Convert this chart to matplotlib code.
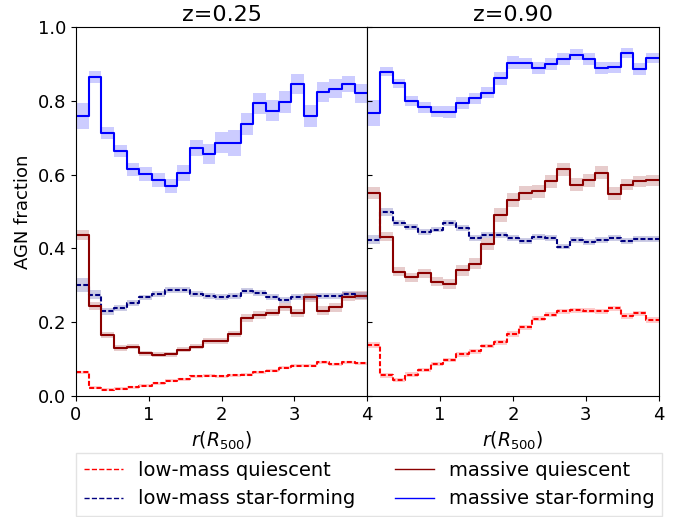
import numpy as np
import matplotlib
matplotlib.use("Agg")
import matplotlib.pyplot as plt
from matplotlib.lines import Line2D

# ---- data ----
r_edges = np.linspace(0, 4, 24)  # 23 radial bins in units of R500

# z = 0.25
lq_025 = [0.065, 0.022, 0.017, 0.020, 0.024, 0.028, 0.035, 0.041, 0.046, 0.053, 0.055, 0.053,
          0.056, 0.058, 0.065, 0.068, 0.076, 0.082, 0.082, 0.092, 0.086, 0.091, 0.089]
lq_025_err = [0.004] * 23
lsf_025 = [0.301, 0.274, 0.229, 0.238, 0.253, 0.267, 0.276, 0.287, 0.287, 0.276, 0.271, 0.269,
           0.271, 0.285, 0.278, 0.269, 0.260, 0.269, 0.269, 0.271, 0.271, 0.276, 0.272]
lsf_025_err = [0.020, 0.012, 0.010, 0.009, 0.008, 0.008, 0.008, 0.008, 0.008, 0.008, 0.008, 0.008,
               0.008, 0.008, 0.008, 0.008, 0.008, 0.008, 0.008, 0.008, 0.008, 0.009, 0.009]
mq_025 = [0.436, 0.244, 0.166, 0.130, 0.134, 0.116, 0.112, 0.113, 0.125, 0.134, 0.150, 0.149,
          0.167, 0.211, 0.220, 0.226, 0.240, 0.226, 0.267, 0.231, 0.240, 0.269, 0.272]
mq_025_err = [0.013, 0.010, 0.008, 0.007, 0.007, 0.007, 0.007, 0.007, 0.007, 0.007, 0.008, 0.008,
              0.008, 0.010, 0.010, 0.010, 0.011, 0.011, 0.012, 0.012, 0.012, 0.012, 0.012]
msf_025 = [0.759, 0.864, 0.713, 0.664, 0.614, 0.602, 0.585, 0.569, 0.604, 0.672, 0.656, 0.686,
           0.686, 0.736, 0.793, 0.773, 0.797, 0.846, 0.759, 0.824, 0.833, 0.846, 0.820]
msf_025_err = [0.035, 0.017, 0.017, 0.016, 0.017, 0.019, 0.020, 0.020, 0.022, 0.021, 0.027, 0.029,
               0.035, 0.030, 0.029, 0.029, 0.030, 0.027, 0.029, 0.027, 0.026, 0.022, 0.026]

# z = 0.90
lq_090 = [0.137, 0.056, 0.044, 0.058, 0.071, 0.087, 0.098, 0.113, 0.121, 0.136, 0.145, 0.168,
          0.186, 0.209, 0.220, 0.229, 0.232, 0.231, 0.229, 0.238, 0.217, 0.224, 0.206]
lq_090_err = [0.008, 0.006, 0.006, 0.006, 0.006, 0.006, 0.006, 0.006, 0.006, 0.006, 0.006, 0.007,
              0.007, 0.007, 0.007, 0.007, 0.007, 0.007, 0.007, 0.007, 0.007, 0.007, 0.007]
lsf_090 = [0.423, 0.499, 0.468, 0.459, 0.445, 0.451, 0.468, 0.456, 0.427, 0.436, 0.436, 0.429,
           0.420, 0.430, 0.427, 0.405, 0.423, 0.418, 0.423, 0.429, 0.420, 0.425, 0.425]
lsf_090_err = [0.012, 0.010, 0.008, 0.008, 0.008, 0.008, 0.008, 0.008, 0.008, 0.008, 0.008, 0.008,
               0.008, 0.008, 0.008, 0.008, 0.008, 0.008, 0.008, 0.008, 0.008, 0.008, 0.008]
mq_090 = [0.550, 0.432, 0.337, 0.322, 0.332, 0.310, 0.304, 0.341, 0.359, 0.412, 0.490, 0.531,
          0.550, 0.555, 0.582, 0.614, 0.573, 0.584, 0.605, 0.548, 0.573, 0.582, 0.584]
mq_090_err = [0.015, 0.012, 0.012, 0.012, 0.012, 0.013, 0.014, 0.015, 0.016, 0.017, 0.018, 0.018,
              0.018, 0.018, 0.018, 0.018, 0.018, 0.018, 0.018, 0.018, 0.016, 0.015, 0.015]
msf_090 = [0.767, 0.879, 0.847, 0.800, 0.782, 0.770, 0.770, 0.793, 0.806, 0.822, 0.861, 0.903,
           0.901, 0.888, 0.899, 0.913, 0.924, 0.913, 0.888, 0.890, 0.929, 0.886, 0.915]
msf_090_err = [0.035, 0.012, 0.013, 0.014, 0.014, 0.015, 0.016, 0.016, 0.016, 0.016, 0.018, 0.017,
               0.016, 0.016, 0.016, 0.015, 0.015, 0.015, 0.016, 0.016, 0.014, 0.015, 0.014]

titles = ["z=0.25", "z=0.90"]
labels = ["low-mass quiescent", "low-mass star-forming", "massive quiescent", "massive star-forming"]
colors = ["red", "navy", "darkred", "blue"]
styles = [(0, (2.4, 1.1)), (0, (2.4, 1.1)), "-", "-"]

panels = [
    [(lq_025, lq_025_err), (lsf_025, lsf_025_err), (mq_025, mq_025_err), (msf_025, msf_025_err)],
    [(lq_090, lq_090_err), (lsf_090, lsf_090_err), (mq_090, mq_090_err), (msf_090, msf_090_err)],
]

fig, axes = plt.subplots(1, 2, figsize=(6.84, 5.17), dpi=100, sharey=True)
fig.subplots_adjust(left=0.111, right=0.963, top=0.948, bottom=0.234, wspace=0)

for ax, data, title in zip(axes, panels, titles):
    for (vals, errs), c, ls in zip(data, colors, styles):
        v = np.asarray(vals)
        e = np.asarray(errs)
        vv = np.append(v, v[-1])
        ee = np.append(e, e[-1])
        ax.fill_between(r_edges, vv - ee, vv + ee, step="post", color=c, alpha=0.2, lw=0)
        ax.step(r_edges, vv, where="post", color=c, ls=ls, lw=1.5)
    ax.set_xlim(0, 4)
    ax.set_ylim(0, 1)
    ax.set_title(title, fontsize=16, pad=4)
    ax.set_xlabel(r"$r(R_{500})$", fontsize=13.5)
    ax.tick_params(labelsize=13)

axes[0].set_xticks([0, 1, 2, 3, 4])
axes[0].set_yticks([0, 0.2, 0.4, 0.6, 0.8, 1.0])
axes[0].set_ylabel("AGN fraction", fontsize=13)
axes[1].set_xticks([1, 2, 3, 4])
axes[1].tick_params(axis="y", direction="in", labelleft=False)

handles = [Line2D([], [], color=c, lw=1.0, ls=("--" if i < 2 else "-"))
           for i, c in enumerate(colors)]
fig.legend(handles, labels, loc="upper center", ncol=2, fontsize=14,
           bbox_to_anchor=(0.54, 1 - 453 / 517),
           borderaxespad=0, fancybox=False, edgecolor="#dddddd")

fig.savefig("out.png", dpi=100)
